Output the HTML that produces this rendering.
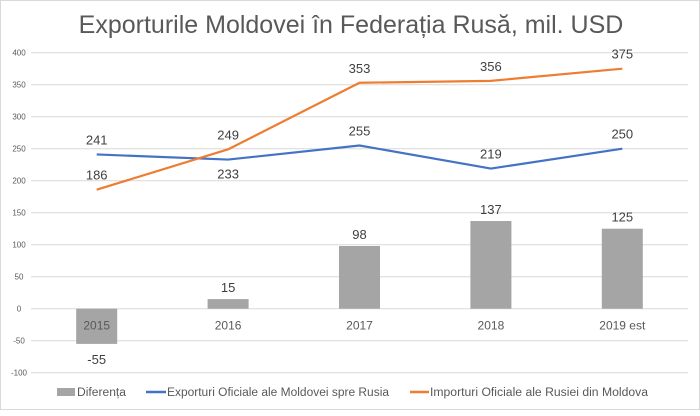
<!DOCTYPE html>
<html><head><meta charset="utf-8"><style>
body{margin:0;background:#fff;font-family:"Liberation Sans",sans-serif}
#c{position:absolute;left:0;top:0;width:698px;height:408px;border:1px solid #d9d9d9}
</style></head><body>
<div id="c">
<svg id="s" width="700" height="410">
<text x="350" y="32" text-anchor="middle" font-size="25" fill="#595959">Exporturile Moldovei în Federația Rusă, mil. USD</text>
<g>
<rect x="56" y="387" width="18" height="8" fill="#a5a5a5"/>
<text x="76" y="395" font-size="11.5" textLength="49" lengthAdjust="spacingAndGlyphs" fill="#595959">Diferența</text>
<line x1="145" x2="165" y1="391" y2="391" stroke="#4472c4" stroke-width="2.5"/>
<text x="166" y="395" font-size="11.5" textLength="222" lengthAdjust="spacingAndGlyphs" fill="#595959">Exporturi Oficiale ale Moldovei spre Rusia</text>
<line x1="409" x2="428" y1="391" y2="391" stroke="#ed7d31" stroke-width="2.5"/>
<text x="429" y="395" font-size="11.5" textLength="218" lengthAdjust="spacingAndGlyphs" fill="#595959">Importuri Oficiale ale Rusiei din Moldova</text>
</g>
</svg></div>
<script>
const categories=["2015","2016","2017","2018","2019 est"];
const diferenta=[-55,15,98,137,125];
const exporturi=[241,233,255,219,250];
const importuri=[186,249,353,356,375];
const yTicks=[-100,-50,0,50,100,150,200,250,300,350,400];
const NS="http://www.w3.org/2000/svg",s=document.getElementById('s');
const L=30,R=687,yTop=51.7,yBot=371.7;
const y=v=>yBot-(v+100)/500*(yBot-yTop);
const bw=(R-L)/categories.length;
const x=i=>L+bw*(i+0.5);
function mk(t,a,txt){const e=document.createElementNS(NS,t);for(const k in a)e.setAttribute(k,a[k]);if(txt!==undefined)e.textContent=txt;s.appendChild(e);return e;}
yTicks.forEach(v=>{
 const g=mk('line',{x1:L,x2:R,y1:y(v),y2:y(v),stroke:'#d9d9d9','stroke-width':1});
 
 
 const t=mk('text',{x:18,y:y(v)+3,'font-size':8,fill:'#595959','text-anchor':'middle'},v);
 
 
});
diferenta.forEach((v,i)=>{
 const r=mk('rect',{x:x(i)-20.5,width:41,y:Math.min(y(v),y(0)),height:Math.abs(y(v)-y(0)),fill:'#a5a5a5'});
 
 
 const t=mk('text',{x:x(i),y:v<0?y(v)+20:y(v)-7,'font-size':13,fill:'#404040','text-anchor':'middle'},v);
 
 
 const c=mk('text',{x:x(i),y:y(0)+21,'font-size':12,fill:'#595959','text-anchor':'middle'},categories[i]);
 
 
});
function series(arr,color,name,below){
 const p=mk('polyline',{points:arr.map((v,i)=>x(i)+','+y(v)).join(' '),fill:'none',stroke:color,'stroke-width':2.2,'stroke-linejoin':'round'});
 
 
 arr.forEach((v,i)=>{
  const b=below(i);
  const t=mk('text',{x:x(i),y:b?y(v)+19:y(v)-10,'font-size':13,fill:'#404040','text-anchor':'middle'},v);
  
  
 });
}
series(exporturi,'#4472c4','exporturi',i=>i==1);
series(importuri,'#ed7d31','importuri',i=>false);
</script>
</body></html>
